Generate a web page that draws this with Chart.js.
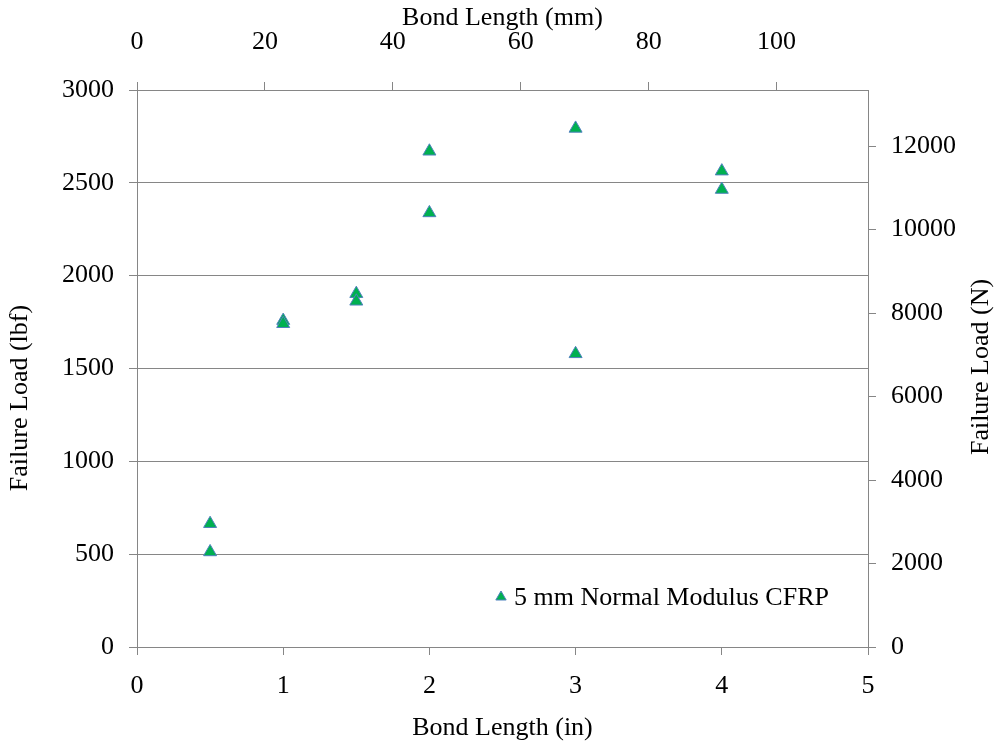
<!DOCTYPE html>
<html>
<head>
<meta charset="utf-8">
<script src="https://cdn.jsdelivr.net/npm/chart.js@4.4.1/dist/chart.umd.min.js"></script>
<style>
html,body{margin:0;padding:0;background:#fff;}
#wrap{width:1004px;height:749px;position:relative;}
</style>
</head>
<body>
<div id="wrap"><canvas id="c" width="1004" height="749"></canvas></div>
<script>
// ---- data ----
const seriesLabel = '5 mm Normal Modulus CFRP';
const bondLengthIn = [0.5, 0.5, 1, 1, 1.5, 1.5, 2, 2, 3, 3, 4, 4];
const failureLoadLbf = [664, 512, 1758, 1741, 1903, 1862, 2670, 2338, 2793, 1579, 2563, 2464];
const yTicksLbf = [0, 500, 1000, 1500, 2000, 2500, 3000];
const y2TicksN = [0, 2000, 4000, 6000, 8000, 10000, 12000];
const xTicksIn = [0, 1, 2, 3, 4, 5];
const x2TicksMm = [0, 20, 40, 60, 80, 100];
const lbfToN = 4.44822;
const inToMm = 25.4;
const xTitle = 'Bond Length (in)';
const x2Title = 'Bond Length (mm)';
const yTitle = 'Failure Load (lbf)';
const y2Title = 'Failure Load (N)';

const FONT = "'Liberation Serif', 'Times New Roman', serif";
const GRID = '#868686';
const tickFont = {family: FONT, size: 26};

const points = bondLengthIn.map((x, i) => ({x: x, y: failureLoadLbf[i]}));
const setTicks = (arr) => (s) => { s.ticks = arr.map(v => ({value: v})); };
const plain = (v) => String(v);

const legendMarker = {
  id: 'legendMarker',
  afterDraw(chart) {
    const ctx = chart.ctx;
    const ca = chart.chartArea;
    const ds = chart.data.datasets[0];
    ctx.save();
    ctx.fillStyle = ds.backgroundColor;
    ctx.strokeStyle = ds.borderColor;
    ctx.lineWidth = 1;
    Chart.helpers.drawPoint(ctx, {pointStyle: 'triangle', radius: 6, borderWidth: 1, rotation: 0}, ca.left + 364, ca.top + 507);
    ctx.restore();
  }
};

const texts = {
  id: 'texts',
  afterDraw(chart) {
    const ctx = chart.ctx;
    const ca = chart.chartArea;
    const ds = chart.data.datasets[0];
    ctx.save();
    ctx.fillStyle = '#000';
    ctx.font = '26px ' + FONT;
    ctx.textAlign = 'center';
    ctx.textBaseline = 'middle';
    ctx.save();
    ctx.translate(20, 398);
    ctx.rotate(-Math.PI / 2);
    ctx.fillText(yTitle, 0, 0);
    ctx.restore();
    ctx.save();
    ctx.translate(981, 367);
    ctx.rotate(-Math.PI / 2);
    ctx.fillText(y2Title, 0, 0);
    ctx.restore();
    ctx.textAlign = 'left';
    ctx.fillText(ds.label, ca.left + 377, ca.top + 508);
    ctx.restore();
  }
};

new Chart(document.getElementById('c'), {
  type: 'scatter',
  data: {
    datasets: [{
      label: seriesLabel,
      data: points,
      pointStyle: 'triangle',
      pointRadius: 7.5,
      pointHoverRadius: 7.5,
      backgroundColor: '#00B050',
      borderColor: '#4F81BD',
      borderWidth: 1,
      xAxisID: 'x',
      yAxisID: 'y'
    }]
  },
  options: {
    responsive: false,
    animation: false,
    devicePixelRatio: 1,
    layout: {padding: 0},
    plugins: {
      legend: {display: false},
      tooltip: {enabled: false}
    },
    scales: {
      x: {
        type: 'linear', position: 'bottom', min: 0, max: 5,
        afterBuildTicks: setTicks(xTicksIn),
        ticks: {font: tickFont, color: '#000', padding: 16, callback: plain},
        grid: {drawOnChartArea: false, drawTicks: true, tickLength: 8, color: GRID},
        border: {color: GRID},
        title: {display: true, text: xTitle, font: tickFont, color: '#000', padding: {top: 0, bottom: 5}},
        afterFit(s) { s.height = 102; }
      },
      x2: {
        type: 'linear', position: 'top', min: 0, max: 4.5 * inToMm,
        afterBuildTicks: setTicks(x2TicksMm),
        ticks: {font: tickFont, color: '#000', padding: 24, callback: plain},
        grid: {drawOnChartArea: false, drawTicks: true, tickLength: 8, color: GRID},
        border: {color: GRID},
        title: {display: true, text: x2Title, font: tickFont, color: '#000', padding: {top: 3, bottom: 0}},
        afterFit(s) { s.height = 90; }
      },
      y: {
        type: 'linear', position: 'left', min: 0, max: 3000,
        afterBuildTicks: setTicks(yTicksLbf),
        ticks: {font: tickFont, color: '#000', padding: 15, callback: plain},
        grid: {drawOnChartArea: true, drawTicks: true, tickLength: 8, color: GRID},
        border: {color: GRID},
        afterFit(s) { s.width = 137; }
      },
      y2: {
        type: 'linear', position: 'right', min: 0, max: 3000 * lbfToN,
        afterBuildTicks: setTicks(y2TicksN),
        ticks: {font: tickFont, color: '#000', padding: 15, callback: plain},
        grid: {drawOnChartArea: false, drawTicks: true, tickLength: 8, color: GRID},
        border: {color: GRID},
        afterFit(s) { s.width = 136; }
      }
    }
  },
  plugins: [texts, legendMarker]
});
</script>
</body>
</html>
